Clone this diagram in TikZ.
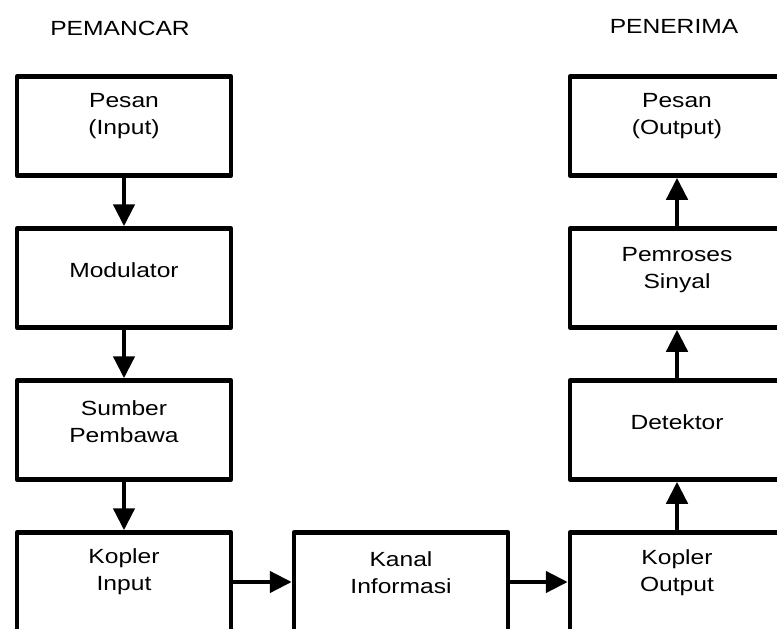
\documentclass[tikz,border=0pt]{standalone}
\usepackage{fontspec}
\setmainfont{Liberation Sans}[FakeStretch=1.2]
\usetikzlibrary{arrows.meta}
\begin{document}
\begin{tikzpicture}[x=1pt,y=-1pt,
  kotak/.style={draw,line width=4.5pt,line join=round,minimum width=214pt,minimum height=99pt},
  teks/.style={align=center,inner sep=0pt,font=\fontsize{20.5}{27}\selectfont},
  panah/.style={line width=4.5pt,-{Triangle[length=22pt,width=21pt]}}]
\useasboundingbox (0,0) rectangle (777,629);
\clip (0,0) rectangle (777,629);

% kotak-kotak blok
\node[kotak] (pesanin) at (124,126) {};
\node[kotak] (modulator) at (124,278) {};
\node[kotak] (sumber) at (124,430) {};
\node[kotak] (koplerin) at (124,582) {};
\node[kotak] (kanal) at (401,582) {};
\node[kotak] (koplerout) at (677,582) {};
\node[kotak] (detektor) at (677,430) {};
\node[kotak] (pemroses) at (677,278) {};
\node[kotak] (pesanout) at (677,126) {};

% teks di dalam kotak
\node[teks] (tpesanin) at ([yshift=10pt]pesanin.center) {Pesan\\(Input)};
\node[teks] (tmodulator) at ([yshift=8pt]modulator.center) {Modulator};
\node[teks] (tsumber) at ([yshift=8pt]sumber.center) {Sumber\\Pembawa};
\node[teks] (tkoplerin) at ([yshift=10pt]koplerin.center) {Kopler\\Input};
\node[teks] (tkanal) at ([yshift=9pt]kanal.center) {Kanal\\Informasi};
\node[teks] (tkoplerout) at ([yshift=9pt]koplerout.center) {Kopler\\Output};
\node[teks] (tdetektor) at ([yshift=8pt]detektor.center) {Detektor};
\node[teks] (tpemroses) at ([yshift=8pt]pemroses.center) {Pemroses\\Sinyal};
\node[teks] (tpesanout) at ([yshift=10pt]pesanout.center) {Pesan\\(Output)};

% judul
\node[teks] (pemancar) at (120,28) {PEMANCAR};
\node[teks] (penerima) at (674,26) {PENERIMA};

% panah
\draw[panah] (pesanin) -- (modulator);
\draw[panah] (modulator) -- (sumber);
\draw[panah] (sumber) -- (koplerin);
\draw[panah] (koplerin) -- (kanal);
\draw[panah] (kanal) -- (koplerout);
\draw[panah] (koplerout) -- (detektor);
\draw[panah] (detektor) -- (pemroses);
\draw[panah] (pemroses) -- (pesanout);
\end{tikzpicture}
\end{document}
